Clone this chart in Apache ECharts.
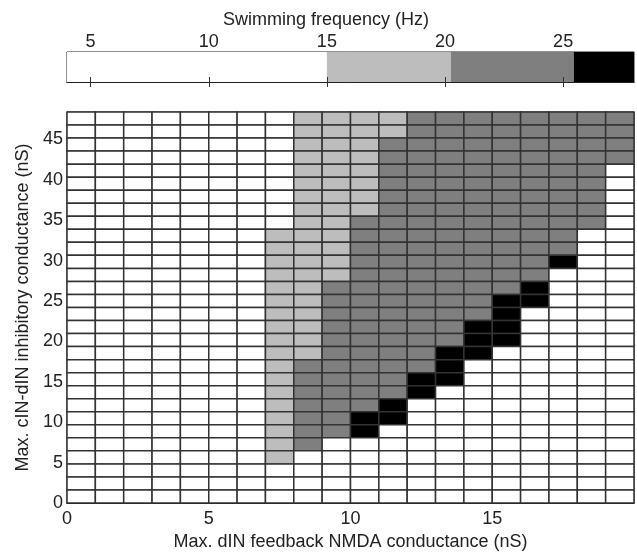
<!DOCTYPE html>
<html>
<head>
<meta charset="utf-8">
<script src="https://cdn.jsdelivr.net/npm/echarts@6/dist/echarts.min.js"></script>
<style>
  html, body { margin: 0; padding: 0; background: #fff; }
  #chart { width: 637px; height: 556px; }
</style>
</head>
<body>
<div id="chart"></div>
<script>
// Max. dIN feedback NMDA conductance (nS): one column per value
const nmdaCols = [0, 1, 2, 3, 4, 5, 6, 7, 8, 9, 10, 11, 12, 13, 14, 15, 16, 17, 18, 19];

// Frequency band of every cell, one string per NMDA column, listed from the
// highest inhibitory conductance (top row) down to the lowest (bottom row).
// 0 = no swimming / below 15 Hz, 1 = 15-20 Hz, 2 = 20-25 Hz, 3 = above 25 Hz
const bandCols = [
  '000000000000000000000000000000',
  '000000000000000000000000000000',
  '000000000000000000000000000000',
  '000000000000000000000000000000',
  '000000000000000000000000000000',
  '000000000000000000000000000000',
  '000000000000000000000000000000',
  '000000000111111111111111111000',
  '111111111111111111122222220000',
  '111111111111122222222222200000',
  '111111112222222222222223300000',
  '112222222222222222222233000000',
  '222222222222222222223300000000',
  '222222222222222222333000000000',
  '222222222222222233300000000000',
  '222222222222223333000000000000',
  '222222222222233000000000000000',
  '222222222223000000000000000000',
  '222222222000000000000000000000',
  '222200000000000000000000000000'
];

// Inhibitory conductance axis: number of rows and axis top (nS)
const inhibRows = 30;
const inhibMax = 48.4;

// Colour bar: band edges (Hz), band colours, labelled ticks
const bandEdgesHz = [4, 15, 20.25, 25.45, 28];
const bandColors = ['#ffffff', '#bdbdbd', '#7f7f7f', '#000000'];
const freqTicks = [5, 10, 15, 20, 25];

const FONT = "'Liberation Sans', Arial, sans-serif";
const TXT = '#222';
const rowH = inhibMax / inhibRows;

// cells: [nmda, rowFromBottom, band]
const cells = [];
nmdaCols.forEach((x, ci) => {
  const s = bandCols[ci];
  for (let t = 0; t < s.length; t++) {
    cells.push([x, inhibRows - 1 - t, +s[t]]);
  }
});

const barData = [];
for (let i = 0; i < bandColors.length; i++) {
  barData.push([bandEdgesHz[i], bandEdgesHz[i + 1], i]);
}

const chart = echarts.init(document.getElementById('chart'), null, { renderer: 'canvas' });

chart.setOption({
  animation: false,
  backgroundColor: '#fff',
  textStyle: { fontFamily: FONT },
  graphic: [{
    type: 'text',
    x: 326, y: 20,
    style: {
      text: 'Swimming frequency (Hz)',
      font: '18px ' + FONT,
      fill: TXT,
      textAlign: 'center',
      textVerticalAlign: 'middle'
    }
  }],
  grid: [
    { left: 67, top: 112, width: 567, height: 391, show: true, borderColor: '#111', borderWidth: 1, backgroundColor: 'transparent' },
    { left: 67, top: 52, width: 567, height: 30, show: true, borderColor: '#222', borderWidth: 1, backgroundColor: 'transparent' }
  ],
  xAxis: [
    {
      gridIndex: 0, type: 'value', min: 0, max: 20, interval: 5,
      name: 'Max. dIN feedback NMDA conductance (nS)',
      nameLocation: 'middle', nameGap: 30,
      nameTextStyle: { fontSize: 18, color: TXT, fontFamily: FONT },
      axisLine: { lineStyle: { color: '#111' } },
      axisTick: { show: false },
      splitLine: { show: false },
      axisLabel: { fontSize: 18, color: TXT, margin: 7, showMaxLabel: false, fontFamily: FONT }
    },
    {
      gridIndex: 1, type: 'value', min: 4, max: 28, position: 'top', z: 10,
      axisLine: { lineStyle: { color: '#222' } },
      axisTick: { inside: true, length: 5, lineStyle: { color: '#333' }, customValues: freqTicks },
      splitLine: { show: false },
      axisLabel: { fontSize: 18, color: TXT, margin: 1, customValues: freqTicks, fontFamily: FONT }
    },
    {
      gridIndex: 1, type: 'value', min: 4, max: 28, position: 'bottom', z: 10,
      axisLine: { lineStyle: { color: '#222' } },
      axisTick: { inside: true, length: 5, lineStyle: { color: '#333' }, customValues: freqTicks },
      splitLine: { show: false },
      axisLabel: { show: false }
    }
  ],
  yAxis: [
    {
      gridIndex: 0, type: 'value', min: 0, max: inhibMax, interval: 5,
      name: 'Max. cIN-dIN inhibitory conductance (nS)',
      nameLocation: 'middle', nameGap: 33,
      nameTextStyle: { fontSize: 18, color: TXT, fontFamily: FONT },
      axisLine: { show: true, lineStyle: { color: '#111' } },
      axisTick: { show: false },
      splitLine: { show: false },
      axisLabel: { fontSize: 18, color: TXT, margin: 4, showMaxLabel: false, fontFamily: FONT }
    },
    {
      gridIndex: 1, type: 'value', min: 0, max: 1, show: false
    }
  ],
  series: [
    {
      type: 'custom',
      xAxisIndex: 0, yAxisIndex: 0,
      data: cells,
      renderItem: function (params, api) {
        const x = api.value(0);
        const y = api.value(1) * rowH;
        const p1 = api.coord([x, y + rowH]);
        const p2 = api.coord([x + 1, y]);
        return {
          type: 'rect',
          shape: { x: p1[0], y: p1[1], width: p2[0] - p1[0], height: p2[1] - p1[1] },
          style: { fill: bandColors[api.value(2)], stroke: '#333', lineWidth: 1.5 }
        };
      }
    },
    {
      type: 'custom',
      xAxisIndex: 1, yAxisIndex: 1,
      data: barData,
      z: 1,
      renderItem: function (params, api) {
        const p1 = api.coord([api.value(0), 1]);
        const p2 = api.coord([api.value(1), 0]);
        return {
          type: 'rect',
          shape: { x: p1[0], y: p1[1], width: p2[0] - p1[0], height: p2[1] - p1[1] },
          style: { fill: bandColors[api.value(2)] }
        };
      }
    }
  ]
});
</script>
</body>
</html>
